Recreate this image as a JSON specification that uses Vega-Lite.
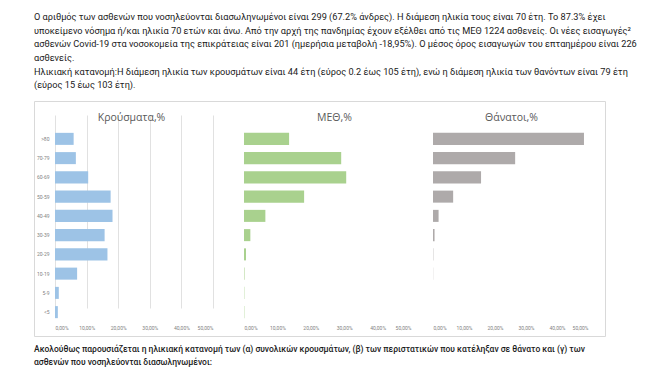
{
  "$schema": "https://vega.github.io/schema/vega-lite/v6.json",
  "padding": {"left": 33, "top": 13, "right": 10, "bottom": 0},
  "background": "white",
  "title": {
    "text": [
      "Ο αριθμός των ασθενών που νοσηλεύονται διασωληνωμένοι είναι 299 (67.2% άνδρες).  Η διάμεση ηλικία τους είναι 70 έτη.  Το 87.3% έχει",
      "υποκείμενο νόσημα ή/και ηλικία 70 ετών και άνω.  Από την αρχή της πανδημίας έχουν εξέλθει από τις ΜΕΘ 1224 ασθενείς.  Οι νέες εισαγωγές²",
      "ασθενών Covid-19 στα νοσοκομεία της επικράτειας είναι 201 (ημερήσια μεταβολή -18,95%). Ο μέσος όρος εισαγωγών του επταημέρου είναι 226",
      "ασθενείς.",
      "Ηλικιακή κατανομή:Η διάμεση ηλικία των κρουσμάτων είναι 44 έτη (εύρος 0.2 έως 105 έτη), ενώ η διάμεση ηλικία των θανόντων είναι 79 έτη",
      "(εύρος 15 έως 103 έτη)."
    ],
    "anchor": "start",
    "frame": "group",
    "font": "Roboto",
    "fontSize": 9.2,
    "fontWeight": "normal",
    "lineHeight": 13.6,
    "color": "#1a1a1a",
    "offset": 10
  },
  "datasets": {
    "ages": [
      {"age": ">80", "cases": 5.9, "icu": 13.5, "deaths": 48.7},
      {"age": "70-79", "cases": 6.6, "icu": 29.1, "deaths": 26.5},
      {"age": "60-69", "cases": 10.5, "icu": 30.6, "deaths": 15.5},
      {"age": "50-59", "cases": 17.6, "icu": 18.0, "deaths": 6.5},
      {"age": "40-49", "cases": 18.2, "icu": 6.4, "deaths": 1.8},
      {"age": "30-39", "cases": 15.7, "icu": 1.9, "deaths": 0.5},
      {"age": "20-29", "cases": 16.6, "icu": 0.6, "deaths": 0.1},
      {"age": "10-19", "cases": 7.0, "icu": 0.15, "deaths": 0.05},
      {"age": "5-9", "cases": 1.2, "icu": 0.1, "deaths": 0},
      {"age": "<5", "cases": 0.9, "icu": 0.1, "deaths": 0}
    ]
  },
  "vconcat": [
    {
      "width": 571,
      "height": 235,
      "data": {"name": "ages"},
      "view": {"stroke": "#D9D9D9", "strokeWidth": 1},
      "encoding": {
        "y": {
          "field": "age",
          "type": "nominal",
          "sort": [">80", "70-79", "60-69", "50-59", "40-49", "30-39", "20-29", "10-19", "5-9", "<5"],
          "scale": {"range": [28, 221], "paddingInner": 0.375, "paddingOuter": 0.2},
          "axis": {
            "title": null,
            "orient": "left",
            "offset": -21,
            "domain": false,
            "ticks": false,
            "labelPadding": 6,
            "labelFontSize": 5,
            "labelFont": "Roboto",
            "labelColor": "#7f7f7f"
          }
        }
      },
      "layer": [
        {
          "mark": {"type": "bar", "color": "#9DC3E6"},
          "encoding": {
            "x": {
              "field": "cases",
              "type": "quantitative",
              "scale": {"domain": [0, 50], "range": [21, 179], "nice": false},
              "axis": {
                "orient": "bottom",
                "offset": -14,
                "values": [0, 10, 20, 30, 40, 50],
                "labelExpr": "replace(format(datum.value, '.2f'), '.', ',') + '%'",
                "domain": false,
                "ticks": false,
                "labelPadding": 3,
                "labelFontSize": 5,
                "labelFont": "Roboto",
                "labelColor": "#7f7f7f",
                "gridColor": "#D9D9D9",
                "gridWidth": 0.8,
                "title": "Κρούσματα,%",
                "titleX": 97,
                "titleY": -205,
                "titleBaseline": "middle",
                "titleFont": "Open Sans",
                "titleFontSize": 10.5,
                "titleFontWeight": "normal",
                "titleColor": "#595959"
              }
            }
          }
        },
        {
          "mark": {"type": "bar", "color": "#A9D18E"},
          "encoding": {
            "x": {
              "field": "icu",
              "type": "quantitative",
              "scale": {"domain": [0, 50], "range": [210, 377], "nice": false},
              "axis": {
                "orient": "bottom",
                "offset": -14,
                "values": [0, 10, 20, 30, 40, 50],
                "labelExpr": "replace(format(datum.value, '.2f'), '.', ',') + '%'",
                "domain": false,
                "ticks": false,
                "labelPadding": 3,
                "labelFontSize": 5,
                "labelFont": "Roboto",
                "labelColor": "#7f7f7f",
                "gridColor": "#D9D9D9",
                "gridWidth": 0.8,
                "title": "ΜΕΘ,%",
                "titleX": 300,
                "titleY": -205,
                "titleBaseline": "middle",
                "titleFont": "Open Sans",
                "titleFontSize": 10.5,
                "titleFontWeight": "normal",
                "titleColor": "#595959"
              }
            }
          }
        },
        {
          "mark": {"type": "bar", "color": "#AEAAAA"},
          "encoding": {
            "x": {
              "field": "deaths",
              "type": "quantitative",
              "scale": {"domain": [0, 50], "range": [399, 554], "nice": false},
              "axis": {
                "orient": "bottom",
                "offset": -14,
                "values": [0, 10, 20, 30, 40, 50],
                "labelExpr": "replace(format(datum.value, '.2f'), '.', ',') + '%'",
                "domain": false,
                "ticks": false,
                "labelPadding": 3,
                "labelFontSize": 5,
                "labelFont": "Roboto",
                "labelColor": "#7f7f7f",
                "gridColor": "#D9D9D9",
                "gridWidth": 0.8,
                "title": "Θάνατοι,%",
                "titleX": 477,
                "titleY": -205,
                "titleBaseline": "middle",
                "titleFont": "Open Sans",
                "titleFontSize": 10.5,
                "titleFontWeight": "normal",
                "titleColor": "#595959"
              }
            }
          }
        }
      ],
      "resolve": {"scale": {"x": "independent"}, "axis": {"x": "independent"}}
    },
    {
      "width": 571,
      "height": 26,
      "view": {"stroke": null},
      "data": {
        "values": [
          {"line": 1, "text": "Ακολούθως παρουσιάζεται η ηλικιακή κατανομή των (α) συνολικών κρουσμάτων, (β) των περιστατικών που κατέληξαν σε θάνατο και (γ) των"},
          {"line": 2, "text": "ασθενών που νοσηλεύονται διασωληνωμένοι:"}
        ]
      },
      "mark": {"type": "text", "align": "left", "baseline": "middle", "font": "Roboto", "fontSize": 8.5, "fontWeight": 500, "color": "#1a1a1a"},
      "encoding": {
        "y": {"field": "line", "type": "ordinal", "axis": null},
        "x": {"value": 0},
        "text": {"field": "text"}
      }
    }
  ],
  "spacing": 5
}
